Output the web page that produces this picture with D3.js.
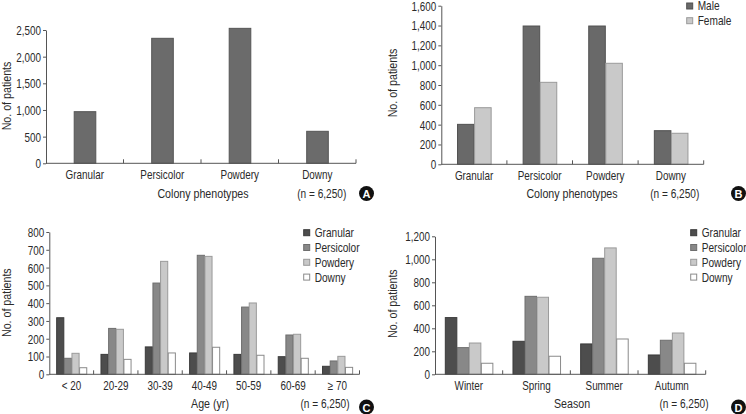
<!DOCTYPE html>
<html>
<head>
<meta charset="utf-8">
<script src="https://cdn.jsdelivr.net/npm/d3@7"></script>
<style>
  body { margin: 0; background: #fff; }
  svg text { font-family: "Liberation Sans", Arial, sans-serif; fill: #2a2a2a; }
</style>
</head>
<body>
<div class="chart"></div>
<script>
// frame size
let FRAME_WIDTH = 746;
let FRAME_HEIGHT = 414;
// the original uses a condensed face, squeeze text horizontally
let NARROW = 0.79;

// data
const phenotypes = ["Granular", "Persicolor", "Powdery", "Downy"];
const totalByPhenotype = [968, 2344, 2531, 600];

const sexes = ["Male", "Female"];
const maleByPhenotype = [403, 1395, 1395, 339];
const femaleByPhenotype = [571, 827, 1019, 313];

const ageGroups = ["< 20", "20-29", "30-39", "40-49", "50-59", "60-69", "\u2265 70"];
const granularByAge = [318, 112, 154, 120, 112, 99, 45];
const persicolorByAge = [90, 258, 513, 669, 378, 221, 75];
const powderyByAge = [118, 253, 635, 663, 401, 225, 101];
const downyByAge = [37, 84, 120, 152, 107, 90, 39];

const seasons = ["Winter", "Spring", "Summer", "Autumn"];
const granularBySeason = [493, 287, 264, 168];
const persicolorBySeason = [232, 678, 1009, 296];
const powderyBySeason = [272, 670, 1099, 359];
const downyBySeason = [96, 157, 307, 96];

const yTicksA = [0, 500, 1000, 1500, 2000, 2500];
const yTicksB = [0, 200, 400, 600, 800, 1000, 1200, 1400, 1600];
const yTicksC = [0, 100, 200, 300, 400, 500, 600, 700, 800];
const yTicksD = [0, 200, 400, 600, 800, 1000, 1200];

// colours for the series
const phenoColors = {Granular: "#4d4d4d", Persicolor: "#888888", Powdery: "#c9c9c9", Downy: "#ffffff"};
const phenoStroke = {Granular: "#3a3a3a", Persicolor: "#6e6e6e", Powdery: "#9a9a9a", Downy: "#8a8a8a"};
const sexColors = {Male: "#696969", Female: "#c9c9c9"};
const sexStroke = {Male: "#505050", Female: "#9a9a9a"};

let svg = d3.select(".chart")
  .append("svg")
  .attr("width", FRAME_WIDTH)
  .attr("height", FRAME_HEIGHT);

// squeezed text helper
function label(g, x, y, txt, size, anchor, rotate) {
  return g.append("text")
    .attr("transform", "translate(" + x + "," + y + ")" + (rotate ? " rotate(-90)" : "") + " scale(" + NARROW + ",1)")
    .attr("text-anchor", anchor || "middle")
    .attr("dominant-baseline", "central")
    .attr("font-size", size + "px")
    .text(txt);
}

// draws one panel
function drawPanel(p) {
  let g = svg.append("g");

  let x = d3.scaleBand().domain(p.categories).range([p.xL, p.xR]).padding(0);
  let y = d3.scaleLinear().domain([0, p.max]).range([p.y0, p.yT]);

  // inner band for the series of each group
  let groupW = x.step() * p.groupRatio;
  let xs = d3.scaleBand().domain(p.keys).range([0, groupW]).padding(0);

  // y axis
  let yAxis = g.append("g")
    .attr("transform", "translate(" + p.xL + ",0)")
    .call(d3.axisLeft(y).tickValues(p.yTicks).tickSize(3).tickSizeOuter(0).tickFormat(d3.format(",")));
  yAxis.select(".domain").attr("stroke", "#555");
  yAxis.selectAll(".tick line").attr("stroke", "#555");
  yAxis.selectAll(".tick text")
    .attr("font-size", "12.5px")
    .attr("x", 0)
    .attr("dy", null)
    .attr("dominant-baseline", "central")
    .attr("font-family", "Liberation Sans, Arial, sans-serif")
    .attr("transform", "translate(-5,0) scale(" + NARROW + ",1)")
    .style("fill", "#2a2a2a");

  // bars
  p.rows.forEach(function(r) {
    g.append("rect")
      .attr("x", x(r.cat) + (x.step() - groupW) / 2 + xs(r.key) + 0.5)
      .attr("y", y(r.value))
      .attr("width", xs.bandwidth() - 0.5)
      .attr("height", y(0) - y(r.value))
      .attr("fill", p.colors[r.key])
      .attr("stroke", p.strokes[r.key])
      .attr("stroke-width", 1);
  });

  // x axis line with boundary ticks pointing up
  g.append("line")
    .attr("x1", p.xL).attr("x2", p.xR)
    .attr("y1", y(0)).attr("y2", y(0))
    .attr("stroke", "#555");
  let bounds = p.categories.map(function(c) { return x(c); }).slice(1);
  bounds.push(p.xR);
  bounds.forEach(function(b) {
    g.append("line")
      .attr("x1", b).attr("x2", b)
      .attr("y1", y(0)).attr("y2", y(0) - 4)
      .attr("stroke", "#555");
  });

  // category labels
  p.categories.forEach(function(c) {
    label(g, x(c) + x.bandwidth() / 2, p.y0 + 11.5, c, 12.5);
  });

  // axis titles
  label(g, p.titleX, p.titleY, p.title, 13.5);
  label(g, p.nX, p.titleY, "(n = 6,250)", 12.8);
  label(g, p.yTitleX, p.yTitleY, "No. of patients", 13.5, "middle", true);

  // panel letter
  g.append("circle")
    .attr("cx", p.letterX).attr("cy", p.letterY).attr("r", 7.5)
    .attr("fill", "#111");
  g.append("text")
    .attr("x", p.letterX).attr("y", p.letterY + 0.5)
    .attr("text-anchor", "middle")
    .attr("dominant-baseline", "central")
    .attr("font-size", "11px")
    .attr("font-weight", "bold")
    .style("fill", "#fff")
    .text(p.letter);

  // legend
  if (p.legend) {
    p.keys.forEach(function(k, i) {
      let ly = p.legendY + i * p.legendStep;
      g.append("rect")
        .attr("x", p.legendX - 3).attr("y", ly - 3)
        .attr("width", 6).attr("height", 6)
        .attr("fill", p.colors[k])
        .attr("stroke", p.strokes[k]);
      label(g, p.legendX + 8, ly, k, 12.8, "start");
    });
  }
}

// build rows
function makeRows(categories, series) {
  let rows = [];
  categories.forEach(function(c, i) {
    series.forEach(function(s) {
      rows.push({cat: c, key: s.key, value: s.values[i]});
    });
  });
  return rows;
}

// Panel A
drawPanel({
  categories: phenotypes, keys: ["All"],
  rows: makeRows(phenotypes, [{key: "All", values: totalByPhenotype}]),
  colors: {All: "#6b6b6b"}, strokes: {All: "#555"},
  xL: 46, xR: 356, y0: 163.3, yT: 30, max: 2500, yTicks: yTicksA,
  groupRatio: 0.285,
  title: "Colony phenotypes", titleX: 203, titleY: 193.3, nX: 321.7,
  yTitleX: 7, yTitleY: 96,
  letter: "A", letterX: 366.5, letterY: 193.5,
  legend: false
});

// Panel B
drawPanel({
  categories: phenotypes, keys: sexes,
  rows: makeRows(phenotypes, [{key: "Male", values: maleByPhenotype}, {key: "Female", values: femaleByPhenotype}]),
  colors: sexColors, strokes: sexStroke,
  xL: 441.3, xR: 703.7, y0: 164.3, yT: 5.7, max: 1600, yTicks: yTicksB,
  groupRatio: 0.52,
  title: "Colony phenotypes", titleX: 572, titleY: 193.3, nX: 674.7,
  yTitleX: 393, yTitleY: 83,
  letter: "B", letterX: 738.5, letterY: 193.5,
  legend: true, legendX: 689.7, legendY: 6, legendStep: 14.7
});

// Panel C
drawPanel({
  categories: ageGroups, keys: phenotypes,
  rows: makeRows(ageGroups, [
    {key: "Granular", values: granularByAge},
    {key: "Persicolor", values: persicolorByAge},
    {key: "Powdery", values: powderyByAge},
    {key: "Downy", values: downyByAge}]),
  colors: phenoColors, strokes: phenoStroke,
  xL: 49.3, xR: 359.5, y0: 374.3, yT: 232, max: 800, yTicks: yTicksC,
  groupRatio: 0.69,
  title: "Age (yr)", titleX: 210, titleY: 403.7, nX: 325,
  yTitleX: 7, yTitleY: 302.7,
  letter: "C", letterX: 366.5, letterY: 407,
  legend: true, legendX: 306.7, legendY: 232.7, legendStep: 14.8
});

// Panel D
drawPanel({
  categories: seasons, keys: phenotypes,
  rows: makeRows(seasons, [
    {key: "Granular", values: granularBySeason},
    {key: "Persicolor", values: persicolorBySeason},
    {key: "Powdery", values: powderyBySeason},
    {key: "Downy", values: downyBySeason}]),
  colors: phenoColors, strokes: phenoStroke,
  xL: 435, xR: 705.7, y0: 374.3, yT: 236.3, max: 1200, yTicks: yTicksD,
  groupRatio: 0.71,
  title: "Season", titleX: 572, titleY: 403.7, nX: 684,
  yTitleX: 393, yTitleY: 303.7,
  letter: "D", letterX: 738.5, letterY: 407,
  legend: true, legendX: 693.7, legendY: 232.7, legendStep: 14.8
});
</script>
</body>
</html>
